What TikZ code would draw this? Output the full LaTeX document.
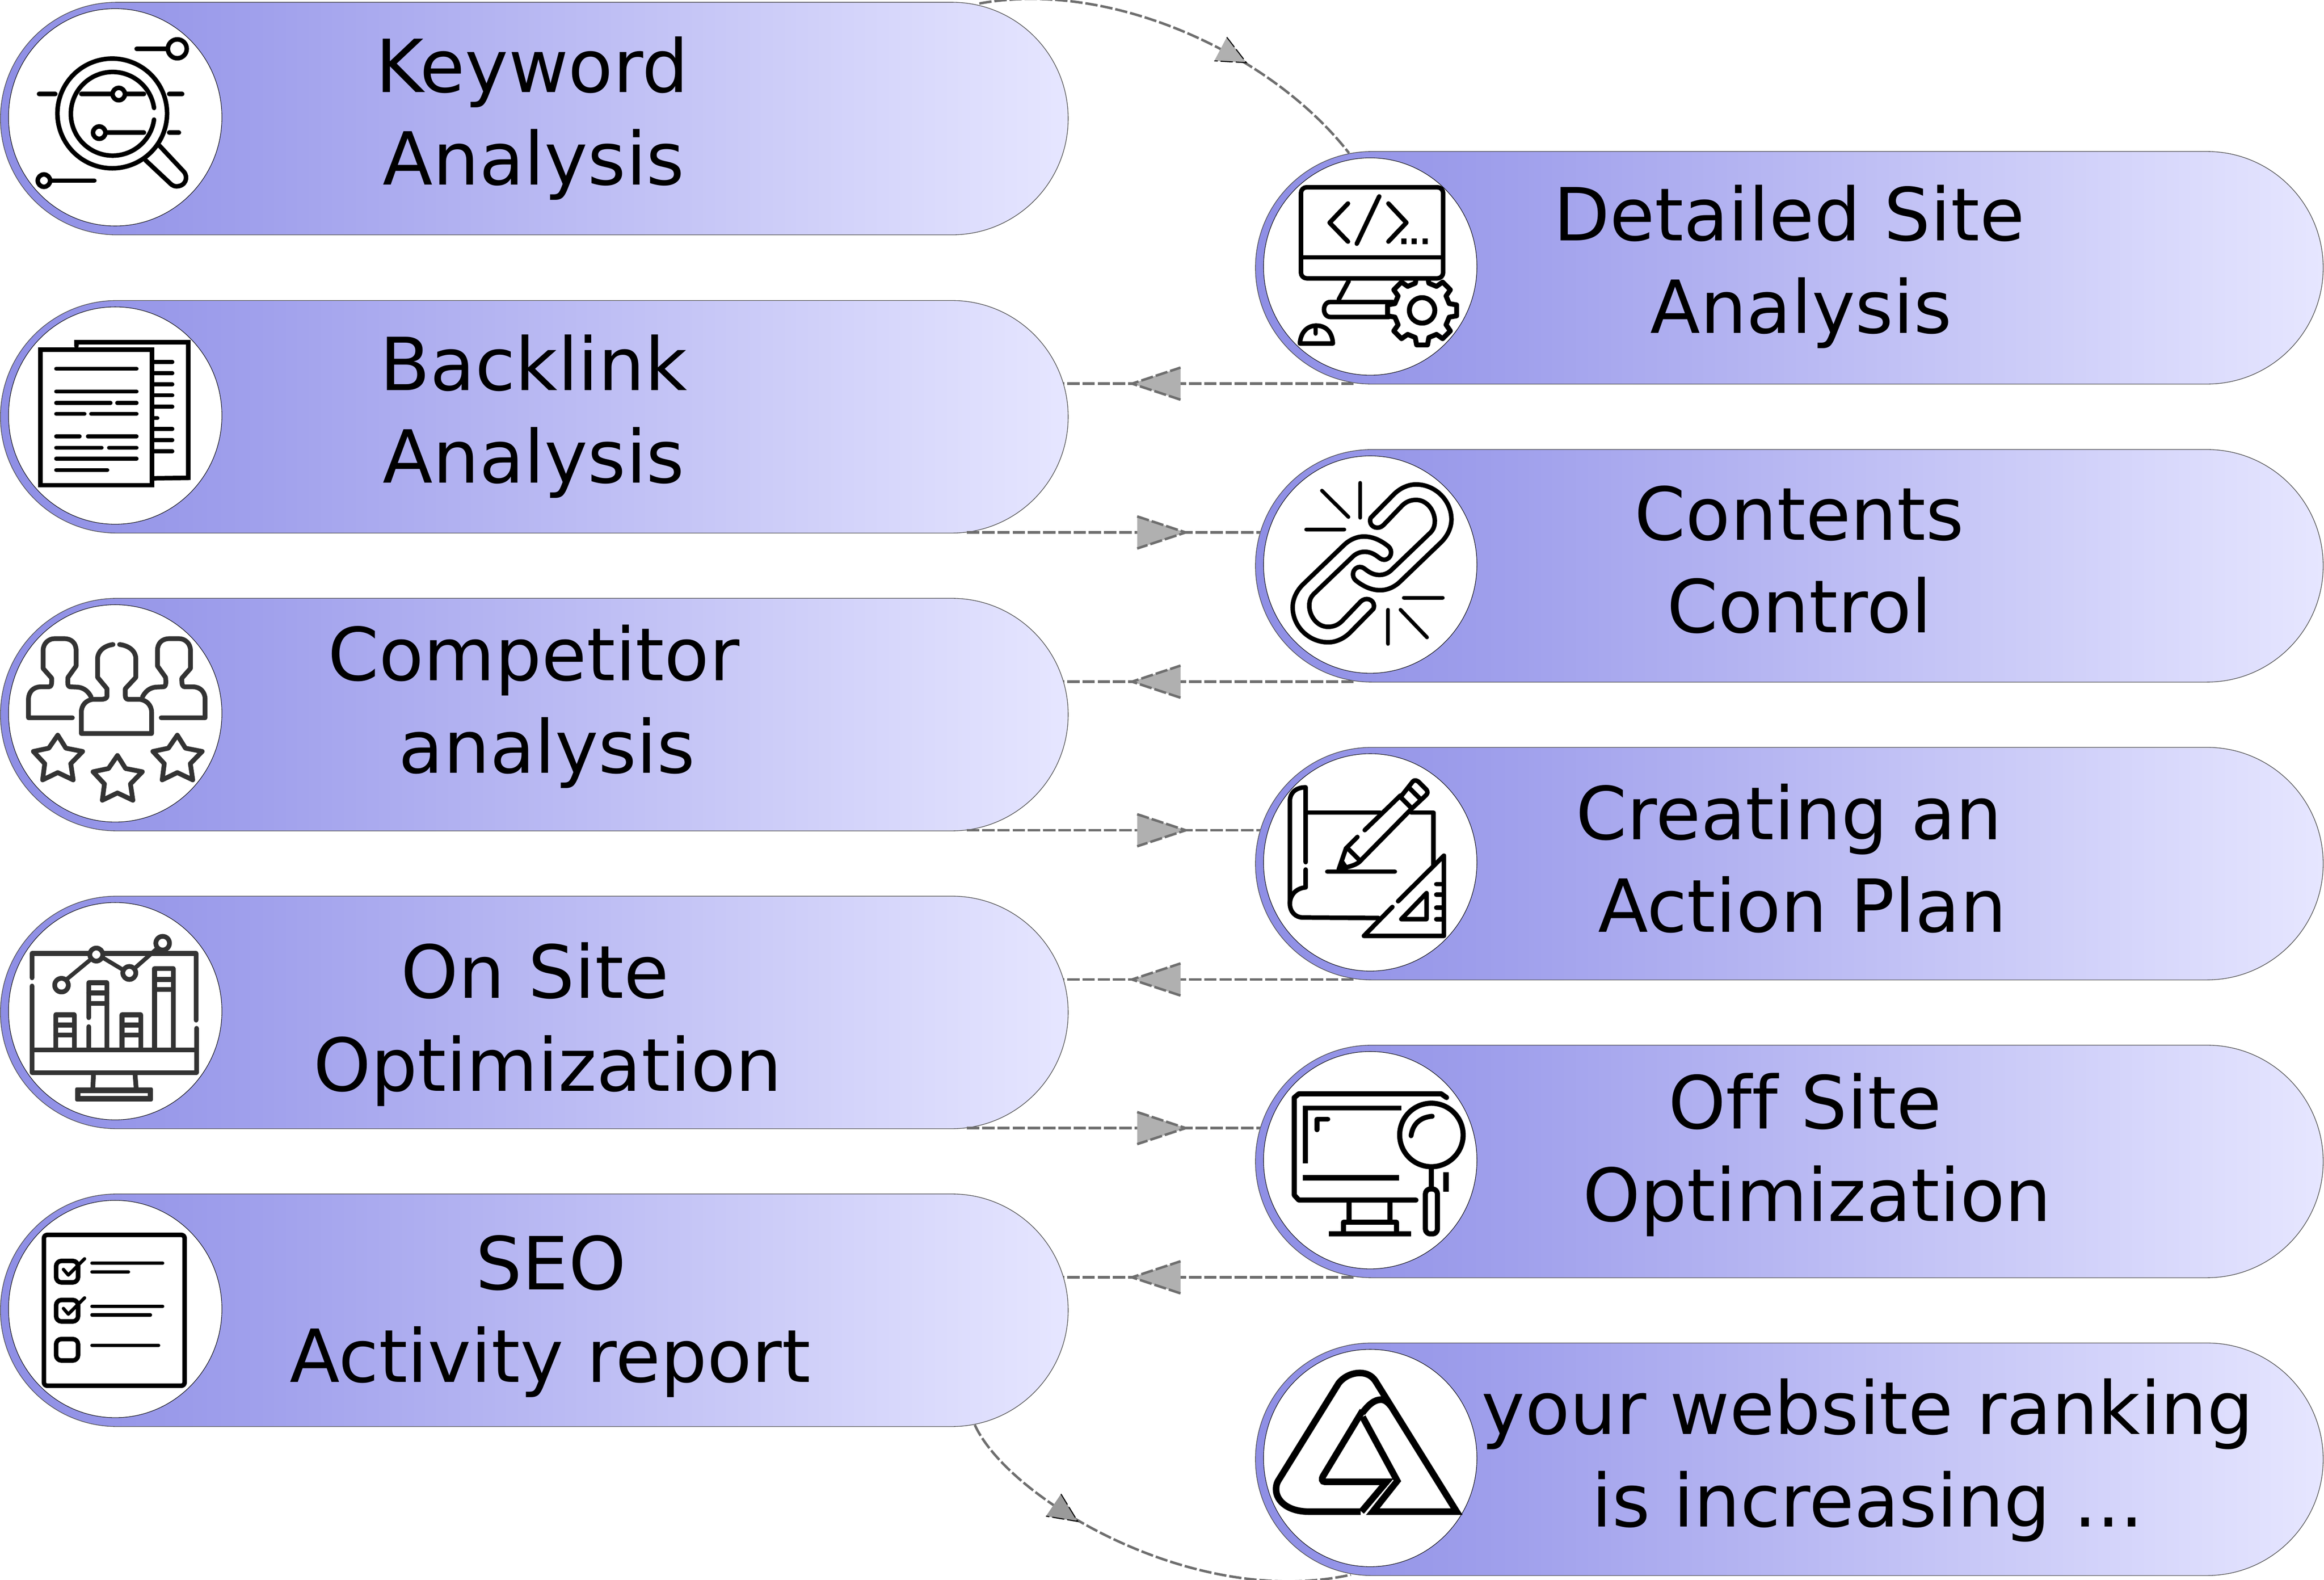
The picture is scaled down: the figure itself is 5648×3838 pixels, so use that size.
\documentclass[tikz,border=0pt]{standalone}
\usepackage{fontspec}
\setmainfont[Ligatures=NoCommon]{DejaVu Sans}
\usetikzlibrary{shapes.geometric,shapes.misc,decorations.markings}
\definecolor{icong}{HTML}{333333}
\definecolor{dashg}{HTML}{6E6E6E}
\definecolor{headg}{HTML}{B0B0B0}
\definecolor{headd}{HTML}{9A9A9A}
\definecolor{pA}{HTML}{8E8EE5}
\definecolor{pB}{HTML}{A0A0EC}
\definecolor{pC}{HTML}{E6E6FF}
\pgfdeclarehorizontalshading{pillshade}{100bp}{
  color(0bp)=(pA); color(25bp)=(pA); color(37bp)=(pB); color(75bp)=(pC); color(100bp)=(pC)}
\tikzset{
  pillnode/.style={rounded rectangle,minimum width=259.5pt,minimum height=56.5pt,inner sep=0pt,outer sep=0pt,
    shading=pillshade,draw=black!70,line width=.15pt},
  discnode/.style={ellipse,minimum width=51.86pt,minimum height=52.8pt,inner sep=0pt,outer sep=0pt,
    fill=white,draw=black,line width=.12pt},
  labeltext/.style={align=center,inner sep=0pt,outer sep=0pt,font=\fontsize{17.8}{22.5}\selectfont},
  conn/.style={draw=dashg,line width=.6pt,dash pattern=on 3pt off .7pt},
  straighthead/.style={postaction={decorate},decoration={markings,mark=at position #1 with {
      \fill[headg] (0,-39)--(118,0)--(0,39)--cycle;
      \draw[conn] (0,-39)--(118,0)--(0,39);}}},
  curvehead/.style 2 args={postaction={decorate},decoration={markings,mark=at position #1 with {
      \fill[#2] (0,-32.5)--(71,0)--(0,32.5)--cycle;
      \draw[black,line width=.25pt] (0,-32.5)--(71,0)--(0,32.5);}}},
  ic/.style={draw=black,line width=1.1pt,line cap=round,line join=round},
  icgr/.style={draw=icong,line width=1.15pt,line cap=round,line join=round},
  zoomA/.style={x=0.03954pt,y=-0.03954pt},
  zoomB/.style={x=0.0893pt,y=-0.0638pt},
  zoomC/.style={x=0.03954pt,y=-0.03814pt}
}
\newcommand{\pillat}[4]{% name, centre x, centre y, disc x
  \node[pillnode] (#1) at (#2,#3) {};
  \node[discnode] (#1d) at (#4,#3-3) {};}
\newcommand{\lbl}[6]{% name, x1, x2, baseline1, line1, line2
  \pgfmathsetmacro\lblc{(#2+#3)/2}
  \pgfmathsetmacro\lbld{0.1*(#2-#3)}
  \pgfmathsetmacro\lbly{#4+64.5}
  \node[labeltext] (#1) at (\lblc,\lbly) {\hspace*{\lbld pt}\strut #5\\\hspace*{-\lbld pt}\strut #6};}
\newcommand{\leftconn}[2]{%
  \coordinate (#1s) at ([shift={(-1059,-1)}]#1.south);
  \coordinate (#2e) at ([xshift=-1.2pt]#2.east);
  \draw[conn,straighthead=.596] (#1s) -- (#2e |- #1s);}
\newcommand{\rightconn}[2]{%
  \coordinate (#1s) at ([shift={(1051.5,-1.5)}]#1.south);
  \coordinate (#2e) at ([xshift=1.2pt]#2.west);
  \draw[conn,straighthead=.58] (#1s) -- (#2e |- #1s);}
\newcommand{\linkdraw}{%
  \draw[ic] (762,450) -- (905,305) .. controls (940,270) and (990,245) .. (1040,245)
    .. controls (1160,245) and (1258,345) .. (1258,460) .. controls (1258,510) and (1235,560) .. (1195,600)
    -- (945,840) .. controls (915,870) and (870,895) .. (820,895) .. controls (770,895) and (720,875) .. (670,835)
    .. controls (640,810) and (650,755) .. (695,752) .. controls (715,752) and (725,765) .. (745,778)
    .. controls (790,810) and (850,810) .. (890,770) -- (1130,540) .. controls (1190,480) and (1140,340) .. (1040,340)
    .. controls (1010,340) and (980,350) .. (955,375) -- (840,495) .. controls (810,525) and (760,510) .. (758,470)
    .. controls (758,460) and (760,455) .. (762,450) -- cycle;}
\newcommand{\sidepersondraw}{%
  \draw[icgr] (445,768) -- (175,768) -- (175,655) .. controls (175,610) and (205,578) .. (250,578) -- (300,578)
    .. controls (318,578) and (318,560) .. (318,525) -- (265,465) -- (265,355) .. controls (265,310) and (300,282) .. (335,282)
    -- (395,282) .. controls (440,282) and (468,310) .. (468,355) -- (468,450) -- (418,520) .. controls (415,560) and (415,578) .. (435,578)
    -- (480,580) .. controls (520,585) and (545,610) .. (560,640);}
\newcommand{\stardraw}[2]{%
  \begin{scope}[shift={(#1,#2)}]
  \draw[icgr] (0,-160)--(50,-80)--(153,-60)--(80,15)--(95,115)--(0,70)--(-93,115)--(-80,15)--(-150,-60)--(-55,-80)--cycle;
  \end{scope}}
\begin{document}
\begin{tikzpicture}[x=0.1pt,y=-0.1pt]
\useasboundingbox (0,0) rectangle (5648,3838);
% pills
\pillat{kw}{1298.5}{288}{280}
\pillat{bl}{1298.5}{1012.5}{280}
\pillat{ca}{1298.5}{1736}{280}
\pillat{os}{1298.5}{2459.5}{280}
\pillat{sr}{1298.5}{3183}{280}
\pillat{ds}{4348.5}{650.5}{3330}
\pillat{cc}{4348.5}{1374.5}{3330}
\pillat{ap}{4348.5}{2098}{3330}
\pillat{of}{4348.5}{2821.5}{3330}
\pillat{yr}{4348.5}{3545}{3330}
% labels
\lbl{kwt}{1293}{1297}{227}{Keyword}{Analysis}
\lbl{blt}{1297}{1297}{951}{Backlink}{Analysis}
\lbl{cat}{1297}{1329}{1656}{Competitor}{analysis}
\lbl{ost}{1300}{1331}{2428}{On Site}{Optimization}
\lbl{srt}{1339}{1337}{3136}{SEO}{Activity report}
\lbl{dst}{4348}{4377}{587}{Detailed Site}{Analysis}
\lbl{cct}{4373}{4373}{1315}{Contents}{Control}
\lbl{apt}{4348}{4380}{2042}{Creating an}{Action Plan}
\lbl{oft}{4387}{4416}{2745}{Off Site}{Optimization}
\lbl{yrt}{4539}{4539}{3487}{your website ranking}{is increasing ...}
% connectors
\draw[conn,curvehead={.60}{headg}] ([shift={(1081.5,3)}]kw.north) .. controls (2700,-50) and (3090,130) .. ([shift={(-1070,4)}]ds.north);
\leftconn{ds}{bl}
\rightconn{bl}{cc}
\leftconn{cc}{ca}
\rightconn{ca}{ap}
\leftconn{ap}{os}
\rightconn{os}{of}
\leftconn{of}{sr}
\draw[conn,curvehead={.266}{headd}] ([shift={(1070.5,-4)}]sr.south) .. controls (2450,3640) and (2900,3910) .. ([shift={(-1065.5,-2)}]yr.south);
% icon 1 keyword
\begin{scope}[zoomA]
\draw[ic] (840,300)--(1025,300); \draw[ic] (1090,300) circle[radius=58];
\draw[ic] (690,697) circle[radius=337];
\draw[ic] (947,735) arc[start angle=8,end angle=352,radius=257];
\draw[ic] (240,578)--(340,578) (1040,578)--(1120,578) (1040,815)--(1100,815);
\draw[ic] (500,578)--(685,578) (775,578)--(885,578); \draw[ic] (730,578) circle[radius=38];
\draw[ic] (610,815) circle[radius=38]; \draw[ic] (650,815)--(885,815);
\draw[ic] (270,1110) circle[radius=38]; \draw[ic] (310,1110)--(580,1110);
\draw[ic] (980,895)--(1130,1055) .. controls (1160,1090) and (1140,1145) .. (1085,1145) .. controls (1070,1145) and (1065,1140) .. (1055,1135) -- (895,985);
\end{scope}
% icon 2 site
\begin{scope}[shift={(3456,754)}]
\draw[ic,line width=1.2pt,fill=white] (-14:68) foreach \a in {0,45,...,315} { -- (\a-14:68) -- (\a-9:85) -- (\a+9:85) -- (\a+14:68) } -- cycle;
\draw[ic,line width=1.2pt] (0,0) circle[radius=31];
\end{scope}
\begin{scope}[shift={(2300,0)},zoomB]
\draw[ic,fill=white,rounded corners=1.4pt] (965,713) rectangle (1352,1060);
\draw[ic,line cap=butt] (965,980)--(1352,980);
\draw[ic] (1093,775)--(1043,848)--(1093,920) (1178,748)--(1117,928) (1203,775)--(1252,848)--(1203,920);
\fill (1238,908) rectangle (1252,930) (1266,908) rectangle (1280,930) (1296,908) rectangle (1310,930);
\draw[ic] (1095,1070)--(1068,1140);
\draw[ic] (1215,1150)--(1045,1150) .. controls (1022,1150) and (1022,1207) .. (1045,1207) -- (1205,1207);
\draw[ic] (962,1308) .. controls (965,1260) and (985,1240) .. (1007,1240) .. controls (1030,1240) and (1050,1260) .. (1052,1308) -- cycle;
\draw[ic] (1005,1240)--(1005,1270);
\end{scope}
% icon 3 link
\begin{scope}[shift={(3030,1080)},zoomA]
\linkdraw
\begin{scope}[rotate around={180:(770,730)}]\linkdraw\end{scope}
\draw[ic,line width=.9pt] (462,283)--(625,445) (697,235)--(697,450) (365,522)--(600,522)
  (868,1015)--(868,1225) (945,1015)--(1108,1185) (965,942)--(1205,942);
\end{scope}
% icon 4 documents
\begin{scope}[shift={(0,720)},zoomA]
\draw[ic,line join=miter] (470,305)--(470,282)--(1157,282)--(1157,1115)--(948,1118);
\draw[ic,line join=miter,fill=white] (248,327)--(935,327)--(935,1160)--(248,1160)--cycle;
\draw[ic,line width=.95pt] (345,445)--(840,445) (345,585)--(840,585) (345,655)--(680,655) (720,655)--(840,655)
  (345,722)--(520,722) (560,722)--(840,722) (345,860)--(490,860) (540,860)--(840,860)
  (345,930)--(625,930) (670,930)--(840,930) (345,997)--(840,997) (345,1067)--(660,1067);
\draw[ic,line width=.95pt] (948,403)--(1060,403) (948,472)--(1060,472) (948,540)--(1060,540) (948,608)--(1060,608)
  (948,678)--(1060,678) (948,748)--(968,748) (948,815)--(1060,815) (948,883)--(1060,883) (948,952)--(1060,952);
\end{scope}
% icon 5 competitors
\begin{scope}[shift={(0,1440)},zoomA]
\sidepersondraw
\begin{scope}[shift={(1436,0)},xscale=-1]\sidepersondraw\end{scope}
\draw[icgr] (695,318) .. controls (640,325) and (600,360) .. (600,405) -- (600,520) -- (658,590) -- (658,635) .. controls (658,650) and (640,655) .. (620,655)
  -- (570,655) .. controls (530,660) and (500,690) .. (500,735) -- (500,865) -- (932,865) -- (932,735) .. controls (932,690) and (900,660) .. (860,655)
  -- (790,655) .. controls (775,655) and (770,645) .. (770,630) -- (770,590) -- (835,520) -- (835,405) .. controls (835,360) and (795,325) .. (735,318);
\stardraw{355}{1035}
\stardraw{722}{1160}
\stardraw{1090}{1035}
\end{scope}
% icon 6 plan
\begin{scope}[shift={(3030,1800)},zoomA]
\draw[ic] (362,745)--(362,285) .. controls (300,285) and (265,320) .. (265,370) -- (265,1000) .. controls (265,1050) and (300,1085) .. (345,1085) -- (810,1088);
\draw[ic] (362,790)--(362,900) .. controls (300,905) and (265,950) .. (265,1000);
\draw[ic] (362,440)--(820,440) (1010,440)--(1148,440)--(1148,765);
\draw[ic] (725,548)--(945,335) (680,590)--(610,660) (1010,420)--(700,735);
\draw[ic] (945,345)--(1020,250) .. controls (1035,235) and (1045,245) .. (1055,250) -- (1105,300) .. controls (1115,315) and (1110,325) .. (1100,335) -- (1015,415) -- cycle;
\draw[ic] (1000,290)--(1070,360);
\draw[ic] (610,660)--(565,790) (700,735) .. controls (680,760) and (640,770) .. (565,790);
\draw[ic] (625,665)--(690,730);
\fill (560,800) -- (590,725) -- (625,775) -- cycle;
\draw[ic] (495,803)--(910,803);
\draw[ic] (930,985)--(1212,705)--(1212,1198)--(720,1198)--(895,1020);
\draw[ic] (1105,935)--(1105,1095)--(950,1095)--cycle;
\draw[ic] (1165,880)--(1210,880) (1165,945)--(1210,945) (1165,1025)--(1210,1025) (1165,1095)--(1210,1095);
\end{scope}
% icon 7 on site
\begin{scope}[shift={(0,2160)},zoomA]
\draw[icgr] (197,545)--(197,395)--(1205,395)--(1205,805) (1208,855)--(1208,1127)--(197,1127)--(197,595);
\draw[icgr] (197,988)--(1208,988);
\draw[icgr] (342,975)--(342,772)--(457,772)--(457,975) (342,835)--(457,835) (342,897)--(457,897);
\draw[icgr] (750,975)--(750,772)--(865,772)--(865,975) (750,835)--(865,835) (750,897)--(865,897);
\draw[icgr] (545,790)--(545,575)--(658,575)--(658,975) (545,638)--(658,638) (545,703)--(658,703) (545,845)--(545,975);
\draw[icgr] (950,975)--(950,487)--(1065,487)--(1065,975) (950,555)--(1065,555) (950,617)--(1065,617);
\draw[icgr] (575,1135)--(570,1235) (830,1135)--(838,1235);
\fill[icong,rounded corners=.4pt] (462,1218) rectangle (940,1305);
\fill[white] (495,1253) rectangle (910,1270);
\draw[icgr,line width=1pt] (415,550)--(560,430) (630,420)--(755,495) (835,480)--(960,370);
\draw[icgr,fill=white] (378,590) circle[radius=42];
\draw[icgr,fill=white] (592,402) circle[radius=40];
\draw[icgr,fill=white] (795,515) circle[radius=40];
\draw[icgr,fill=white] (1000,332) circle[radius=42];
\end{scope}
% icon 8 off site
\begin{scope}[shift={(3030,2520)},zoomA]
\draw[ic,line width=1.25pt] (1040,1000)--(320,1000)--(292,970)--(292,370)--(320,347)--(1195,347)--(1228,370);
\draw[ic,line width=1.2pt,line join=miter,line cap=butt] (950,435)--(360,435)--(360,775);
\draw[ic,line width=1.2pt] (498,503)--(432,503)--(432,568);
\draw[ic,line width=1.3pt,line cap=butt] (345,863)--(935,863);
\draw[ic,line width=1.25pt,line cap=butt] (630,1010)--(630,1135) (880,1010)--(880,1135);
\draw[ic,line width=1.25pt,line cap=butt] (595,1205)--(595,1137)--(920,1137)--(920,1205);
\draw[ic,line width=1.2pt,line cap=butt] (505,1207)--(1010,1207);
\draw[ic,line width=1.25pt] (1135,600) circle[radius=195];
\draw[ic,line width=1.2pt] (1010,605) .. controls (1020,530) and (1070,490) .. (1140,485);
\draw[ic,line width=1.25pt,line cap=butt] (1135,795)--(1135,930);
\draw[ic,line width=1.25pt,fill=white,rounded corners=1.2pt] (1098,932) rectangle (1172,1208);
\draw[ic,line width=1.3pt,line cap=butt] (1225,830)--(1225,948);
\end{scope}
% icon 9 report
\begin{scope}[shift={(0,2890)},zoomA]
\draw[ic,rounded corners=.8pt] (270,278) rectangle (1135,1205);
\foreach \o in {0,240,480} {\draw[ic,rounded corners=1.3pt] (345,{438+\o}) rectangle (480,{570+\o});}
\draw[ic,line width=.8pt] (390,490)--(420,525)--(520,425) (390,730)--(420,765)--(520,665);
\draw[ic,line width=.8pt] (565,452)--(1000,452) (565,505)--(790,505) (565,717)--(1000,717) (565,770)--(925,770) (565,957)--(975,957);
\end{scope}
% icon 10 logo
\begin{scope}[shift={(3030,3240)},zoomC]
\draw[black,line width=1.6pt,line join=miter] (700,1133) -- (380,1133) .. controls (260,1133) and (180,1070) .. (180,990) .. controls (180,960) and (190,940) .. (200,925)
  -- (565,315) .. controls (600,270) and (650,250) .. (695,250) .. controls (740,250) and (770,270) .. (790,300) -- (1290,1133) -- (775,1133) -- (925,937) -- (712,530);
\draw[black,line width=1.6pt,line join=miter] (712,490) -- (470,905) .. controls (458,925) and (462,943) .. (480,943) -- (860,943) -- (705,1133);
\draw[black,line width=1.6pt] (710,505) .. controls (750,450) and (785,420) .. (825,420) .. controls (850,420) and (870,440) .. (885,460);
\draw[white,line width=.25pt] (720,1153)--(900,932);
\end{scope}
\end{tikzpicture}
\end{document}
